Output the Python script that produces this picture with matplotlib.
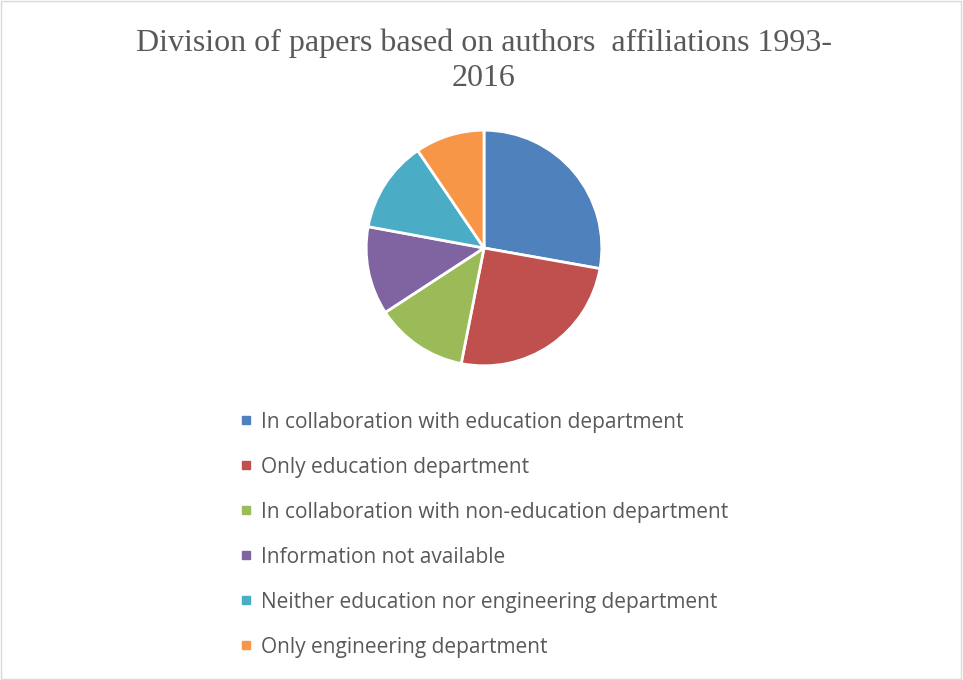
import matplotlib.pyplot as plt
from matplotlib.lines import Line2D
from matplotlib.patches import Rectangle

labels = [
    'In collaboration with education department',
    'Only education department',
    'In collaboration with non-education department',
    'Information not available',
    'Neither education nor engineering department',
    'Only engineering department',
]
shares = [27.8, 25.3, 12.7, 12.1, 12.6, 9.5]
colors = ['#4f81bd', '#c0504d', '#9bbb59', '#8064a2', '#4bacc6', '#f79646']

title = 'Division of papers based on authors  affiliations 1993-\n2016'

fig = plt.figure(figsize=(9.63, 6.8), dpi=100)

# light frame round the chart area
fig.patches.append(Rectangle((0.001, 0.001), 0.997, 0.997, transform=fig.transFigure,
                             fill=False, edgecolor='#d9d9d9', linewidth=1))

ax = fig.add_axes([(484 - 119) / 963, (680 - 367) / 680, 238 / 963, 238 / 680])
ax.pie(shares, colors=colors, startangle=90, counterclock=False,
       wedgeprops=dict(edgecolor='white', linewidth=2))
ax.set_xlim(-1.01, 1.01)
ax.set_ylim(-1.01, 1.01)
ax.set_aspect('equal')

fig.text(0.5026, 1 - 61 / 680, title, ha='center', va='center',
         family='Liberation Serif', fontsize=23, color='#595959', linespacing=1.28)

handles = [Line2D([], [], marker='s', linestyle='none', markersize=5.5,
                  markerfacecolor=c, markeredgecolor=c) for c in colors]
fig.legend(handles, labels, loc='upper left', bbox_to_anchor=(221 / 963, 1 - 393 / 680),
           frameon=False, handlelength=0.6, handletextpad=0.4, labelspacing=1.15,
           prop={'family': 'Open Sans', 'size': 15}, labelcolor='#595959')

fig.savefig('out.png', dpi=100)
